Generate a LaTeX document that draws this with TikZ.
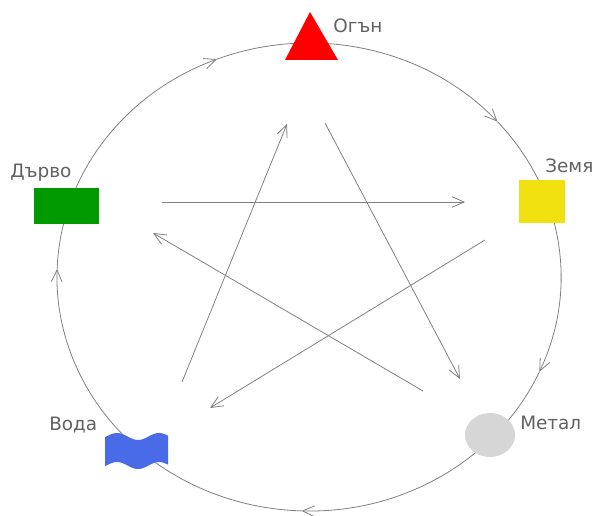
\documentclass[tikz,border=0pt]{standalone}
\usepackage{fontspec}
\setmainfont{DejaVu Sans}
\usetikzlibrary{arrows.meta,shapes.geometric}
\definecolor{linegray}{HTML}{808080}
\definecolor{txtgray}{HTML}{606060}
\definecolor{firered}{HTML}{FF0000}
\definecolor{woodgreen}{HTML}{009900}
\definecolor{earthyellow}{HTML}{F0E010}
\definecolor{metalgray}{HTML}{D6D6D6}
\definecolor{waterblue}{HTML}{4A6BE8}
\tikzset{
  conn/.style={draw=linegray, line width=0.6pt, -{Straight Barb[length=9pt,width=8pt,line width=0.6pt]}},
  lbl/.style={anchor=base west, inner sep=0pt, text=txtgray, font=\fontsize{13.8}{16}\selectfont},
}
\begin{document}
\begin{tikzpicture}[x=0.75pt,y=0.75pt]
\useasboundingbox (0,0) rectangle (592,516);
\coordinate (C) at (309,239);
% outer cycle (clockwise)
\draw[conn] ([shift={(178:252 and 234)}]C) arc[start angle=178, end angle=111.4, x radius=252, y radius=234];
\draw[conn] ([shift={(111.4:252 and 234)}]C) arc[start angle=111.4, end angle=41.6, x radius=252, y radius=234];
\draw[conn] ([shift={(41.6:252 and 234)}]C) arc[start angle=41.6, end angle=-23.9, x radius=252, y radius=234];
\draw[conn] ([shift={(-23.9:252 and 234)}]C) arc[start angle=-23.9, end angle=-91.7, x radius=252, y radius=234];
\draw[conn] ([shift={(-91.7:252 and 234)}]C) arc[start angle=-91.7, end angle=-182, x radius=252, y radius=234];
% elements
\fill[firered] (310,504) -- (338,456) -- (285,456) -- cycle;
\coordinate (fire) at (311,472);
\node[fill=woodgreen, minimum width=48.75pt, minimum height=27pt, inner sep=0pt] (wood) at (66.5,310) {};
\node[fill=earthyellow, minimum width=34.5pt, minimum height=32.25pt, inner sep=0pt] (earth) at (542,314.5) {};
\node[ellipse, fill=metalgray, minimum width=37.5pt, minimum height=33pt, inner sep=0pt] (metal) at (490,81) {};
\fill[waterblue] plot[domain=105:168, samples=50, smooth] (\x,{79.5+3.5*cos((\x-117)*8.5714)})
  -- plot[domain=168:105, samples=50, smooth] (\x,{50.5+3.5*cos((\x-117)*8.5714)}) -- cycle;
\coordinate (water) at (136,65);
% labels
\node[lbl] (lfire) at (333,483) {Огън};
\node[lbl] (lwood) at (10,338) {Дърво};
\node[lbl] (learth) at (545,343) {Земя};
\node[lbl] (lmetal) at (520,86) {Метал};
\node[lbl] (lwater) at (49,85) {Вода};
% star
\coordinate (s1a) at (162,314); \coordinate (s1b) at (465,314);
\coordinate (s2a) at (485,276); \coordinate (s2b) at (210,108);
\coordinate (s3a) at (182,134); \coordinate (s3b) at (287,392);
\coordinate (s4a) at (325,393); \coordinate (s4b) at (460,137);
\coordinate (s5a) at (423,125); \coordinate (s5b) at (153,283);
\draw[conn] (s1a) -- (s1b);
\draw[conn] (s2a) -- (s2b);
\draw[conn] (s3a) -- (s3b);
\draw[conn] (s4a) -- (s4b);
\draw[conn] (s5a) -- (s5b);
\end{tikzpicture}
\end{document}
